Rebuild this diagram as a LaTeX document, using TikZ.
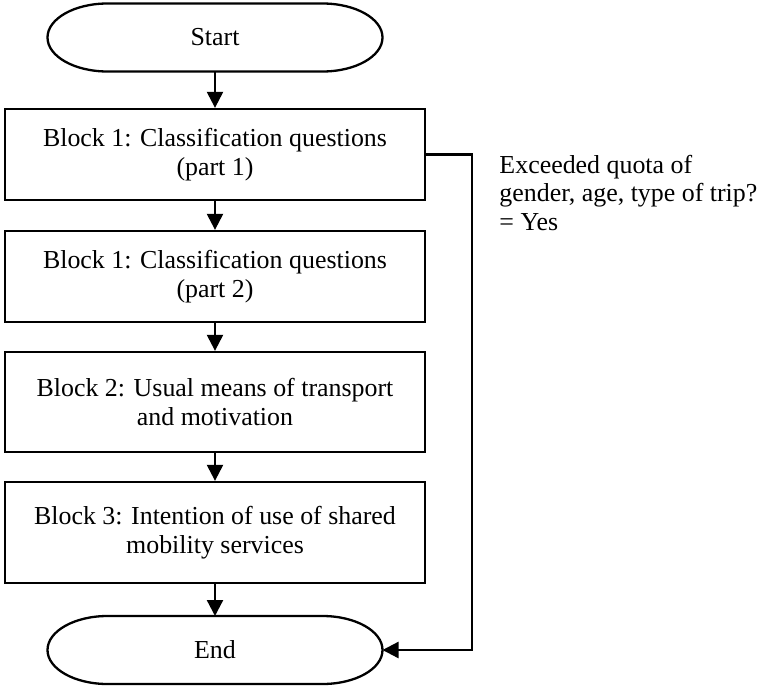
\documentclass[tikz,border=0pt]{standalone}
\usepackage{fontspec}
\setmainfont{Liberation Serif}
\usetikzlibrary{arrows.meta}

\begin{document}
\begin{tikzpicture}[
  x=1bp, y=1bp,
  line width=2.3bp,
  every node/.style={font=\fontsize{26}{28.5}\selectfont},
  stepbox/.style={draw, rectangle, minimum width=420bp, align=center, inner sep=0pt},
  terminal/.style={rectangle, minimum width=335bp, minimum height=68bp, inner sep=0pt, outer sep=0pt},
  arr/.style={-{Triangle[length=16bp,width=16bp]}}
]
  \useasboundingbox (0,0) rectangle (757,-686);

  % terminals and process steps
  \node[terminal] (start) at (215,-37.5) {Start};
  \node[stepbox, minimum height=91bp]  (b1) at (215,-154.5) {Block 1: Classification questions\\(part 1)};
  \node[stepbox, minimum height=91bp]  (b2) at (215,-276.5) {Block 1: Classification questions\\(part 2)};
  \node[stepbox, minimum height=100bp] (b3) at (215,-402)   {Block 2: Usual means of transport\\and motivation};
  \node[stepbox, minimum height=101bp] (b4) at (215,-532.5) {Block 3: Intention of use of shared\\mobility services};
  \node[terminal] (end) at (215,-650) {End};

  % stadium outlines with elliptical ends
  \foreach \t in {start,end}{
    \draw ([xshift=60bp]\t.north west) -- ([xshift=-60bp]\t.north east)
      arc[start angle=90, end angle=-90, x radius=60bp, y radius=34bp]
      -- ([xshift=60bp]\t.south west)
      arc[start angle=270, end angle=90, x radius=60bp, y radius=34bp]
      -- cycle;
  }

  % main flow
  \draw[arr] (start) -- (b1);
  \draw[arr] (b1) -- (b2);
  \draw[arr] (b2) -- (b3);
  \draw[arr] (b3) -- (b4);
  \draw[arr] (b4) -- (end);

  % quota exit
  \coordinate (turn) at (472,-154.5);
  \draw[arr] (b1.east) -- (turn) |- (end.east);
  \node[anchor=base west, align=left] (note) at (495,-230)
    {Exceeded quota of\\gender, age, type of trip?\\= Yes};
\end{tikzpicture}
\end{document}
